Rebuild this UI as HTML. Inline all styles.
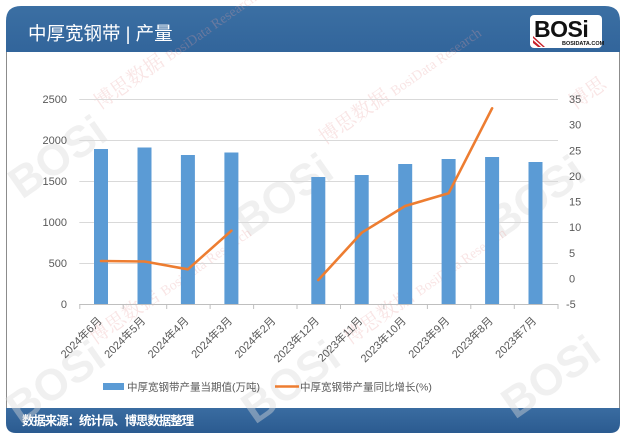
<!DOCTYPE html>
<html><head><meta charset="utf-8"><style>
html,body{margin:0;padding:0;background:#fff;}
body{width:626px;height:436px;overflow:hidden;position:relative;font-family:"Liberation Sans","Noto Sans CJK SC",sans-serif;}
svg{position:absolute;left:0;top:0;}
</style></head><body>
<svg width="626" height="436" viewBox="0 0 626 436" xmlns="http://www.w3.org/2000/svg" font-family="Liberation Sans, Noto Sans CJK SC, sans-serif">
<defs>
<linearGradient id="hg" x1="0" y1="0" x2="0" y2="1"><stop offset="0" stop-color="#3b6fa3"/><stop offset="1" stop-color="#32659b"/></linearGradient>
<linearGradient id="fg" x1="0" y1="0" x2="0" y2="1"><stop offset="0" stop-color="#3a6ca1"/><stop offset="1" stop-color="#2b5b90"/></linearGradient>
</defs>
<rect width="626" height="436" fill="#fff"/>
<!-- frame side borders -->
<line x1="6.5" y1="50" x2="6.5" y2="410" stroke="#8c8c8c" stroke-width="1"/>
<line x1="619.5" y1="50" x2="619.5" y2="410" stroke="#8c8c8c" stroke-width="1"/>
<!-- header -->
<path d="M6 52 L6 21 Q6 6 21 6 L605 6 Q620 6 620 21 L620 52 Z" fill="url(#hg)"/>
<text x="28" y="40" font-size="18.5" fill="#fff" font-family="Liberation Sans, Noto Sans CJK SC, sans-serif">中厚宽钢带 | 产量</text>
<!-- logo -->
<rect x="530" y="15" width="72" height="33" rx="4" fill="#fff"/>
<text x="534" y="37" font-size="23" font-weight="bold" fill="#111" font-family="Liberation Sans, sans-serif" letter-spacing="-0.5">BOSi</text>
<text x="562" y="45" font-size="5.5" font-weight="bold" fill="#111" font-family="Liberation Sans, sans-serif">BOSIDATA.COM</text>
<path d="M533 40 L541 47 L538 47 L533 43 Z M533 36 L545 47 L543 47 L533 38 Z" fill="#c8202a"/>
<!-- footer -->
<path d="M6 408 L620 408 L620 423 Q620 433 610 433 L16 433 Q6 433 6 423 Z" fill="url(#fg)"/>
<text x="22" y="425" font-size="12.5" font-weight="bold" fill="#fff" letter-spacing="-1.1">数据来源：统计局、博思数据整理</text>

<!-- watermarks -->
<g opacity="0.42" font-family="Liberation Sans, sans-serif" font-weight="bold" fill="#dcdcdc">
<text x="0" y="0" font-size="44" transform="translate(22,200) rotate(-35)">BOSi</text>
<text x="0" y="0" font-size="44" transform="translate(248,238) rotate(-35)">BOSi</text>
<text x="0" y="0" font-size="44" transform="translate(500,240) rotate(-35)">BOSi</text>
<text x="0" y="0" font-size="44" transform="translate(20,425) rotate(-35)">BOSi</text>
<text x="0" y="0" font-size="44" transform="translate(255,425) rotate(-35)">BOSi</text>
<text x="0" y="0" font-size="44" transform="translate(515,420) rotate(-35)">BOSi</text>
</g>
<g opacity="0.28" fill="#e8a0a0" font-family="Liberation Serif, Noto Serif CJK SC, serif">
<text x="0" y="0" font-size="20" transform="translate(100,110) rotate(-35)">博思数据 <tspan font-size="14">BosiData Research</tspan></text>
<text x="0" y="0" font-size="20" transform="translate(325,145) rotate(-35)">博思数据 <tspan font-size="14">BosiData Research</tspan></text>
<text x="0" y="0" font-size="20" transform="translate(95,345) rotate(-35)">博思数据 <tspan font-size="14">BosiData Research</tspan></text>
<text x="0" y="0" font-size="20" transform="translate(350,345) rotate(-35)">博思数据 <tspan font-size="14">BosiData Research</tspan></text>
<text x="0" y="0" font-size="20" transform="translate(575,110) rotate(-35)">博思</text>
</g>

<!-- gridlines -->
<g stroke="#d9d9d9" stroke-width="1">
<line x1="79.3" y1="99.5" x2="558" y2="99.5"/>
<line x1="79.3" y1="140.5" x2="558" y2="140.5"/>
<line x1="79.3" y1="181.5" x2="558" y2="181.5"/>
<line x1="79.3" y1="222.5" x2="558" y2="222.5"/>
<line x1="79.3" y1="263.5" x2="558" y2="263.5"/>
</g>
<!-- bars -->
<g fill="#5b9bd5">
<rect x="94" y="149" width="14" height="155"/>
<rect x="137.5" y="147.5" width="14" height="156.5"/>
<rect x="180.9" y="155" width="14" height="149"/>
<rect x="224.4" y="152.5" width="14" height="151.5"/>
<rect x="311.3" y="177" width="14" height="127"/>
<rect x="354.7" y="175" width="14" height="129"/>
<rect x="398.2" y="164" width="14" height="140"/>
<rect x="441.6" y="159" width="14" height="145"/>
<rect x="485.1" y="157" width="14" height="147"/>
<rect x="528.5" y="162" width="14" height="142"/>
</g>
<!-- x axis -->
<g stroke="#bfbfbf" stroke-width="1">
<line x1="79.3" y1="304.5" x2="558.5" y2="304.5"/>
<line x1="79.8" y1="304" x2="79.8" y2="309"/>
<line x1="123.2" y1="304" x2="123.2" y2="309"/>
<line x1="166.7" y1="304" x2="166.7" y2="309"/>
<line x1="210.1" y1="304" x2="210.1" y2="309"/>
<line x1="253.6" y1="304" x2="253.6" y2="309"/>
<line x1="297.0" y1="304" x2="297.0" y2="309"/>
<line x1="340.5" y1="304" x2="340.5" y2="309"/>
<line x1="383.9" y1="304" x2="383.9" y2="309"/>
<line x1="427.4" y1="304" x2="427.4" y2="309"/>
<line x1="470.8" y1="304" x2="470.8" y2="309"/>
<line x1="514.3" y1="304" x2="514.3" y2="309"/>
<line x1="558" y1="304" x2="558" y2="309"/>
</g>
<!-- line series -->
<g fill="none" stroke="#ed7d31" stroke-width="2.6" stroke-linejoin="round" stroke-linecap="round">
<polyline points="101,261 144.5,261.5 187.9,269.3 231.4,230.7"/>
<polyline points="318.3,280 361.7,232.7 405.2,206 448.6,193.3 492.1,108.3"/>
</g>
<!-- left axis labels -->
<g font-size="11" fill="#595959" text-anchor="end">
<text x="67" y="103">2500</text>
<text x="67" y="144">2000</text>
<text x="67" y="185">1500</text>
<text x="67" y="226">1000</text>
<text x="67" y="267">500</text>
<text x="67" y="308">0</text>
</g>
<!-- right axis labels -->
<g font-size="11" fill="#595959">
<text x="569" y="103">35</text>
<text x="569" y="128.6">30</text>
<text x="569" y="154.3">25</text>
<text x="569" y="179.9">20</text>
<text x="569" y="205.5">15</text>
<text x="569" y="231.1">10</text>
<text x="569" y="256.8">5</text>
<text x="569" y="282.4">0</text>
<text x="566" y="308">-5</text>
</g>
<!-- x labels -->
<g font-size="11" fill="#595959" text-anchor="end" font-family="Liberation Sans, Noto Sans CJK SC, sans-serif">
<text transform="translate(102.5,321.5) rotate(-45)">2024年6月</text>
<text transform="translate(146,321.5) rotate(-45)">2024年5月</text>
<text transform="translate(189.4,321.5) rotate(-45)">2024年4月</text>
<text transform="translate(232.9,321.5) rotate(-45)">2024年3月</text>
<text transform="translate(276.3,321.5) rotate(-45)">2024年2月</text>
<text transform="translate(319.8,321.5) rotate(-45)">2023年12月</text>
<text transform="translate(363.2,321.5) rotate(-45)">2023年11月</text>
<text transform="translate(406.7,321.5) rotate(-45)">2023年10月</text>
<text transform="translate(450.1,321.5) rotate(-45)">2023年9月</text>
<text transform="translate(493.6,321.5) rotate(-45)">2023年8月</text>
<text transform="translate(537,321.5) rotate(-45)">2023年7月</text>
</g>
<!-- legend -->
<rect x="103" y="383" width="21" height="7" fill="#5b9bd5"/>
<text x="127" y="390.5" font-size="10.5" fill="#595959">中厚宽钢带产量当期值(万吨)</text>
<line x1="275" y1="386.5" x2="299" y2="386.5" stroke="#ed7d31" stroke-width="2.6"/>
<text x="300" y="390.5" font-size="10.5" fill="#595959">中厚宽钢带产量同比增长(%)</text>
</svg>
</body></html>
